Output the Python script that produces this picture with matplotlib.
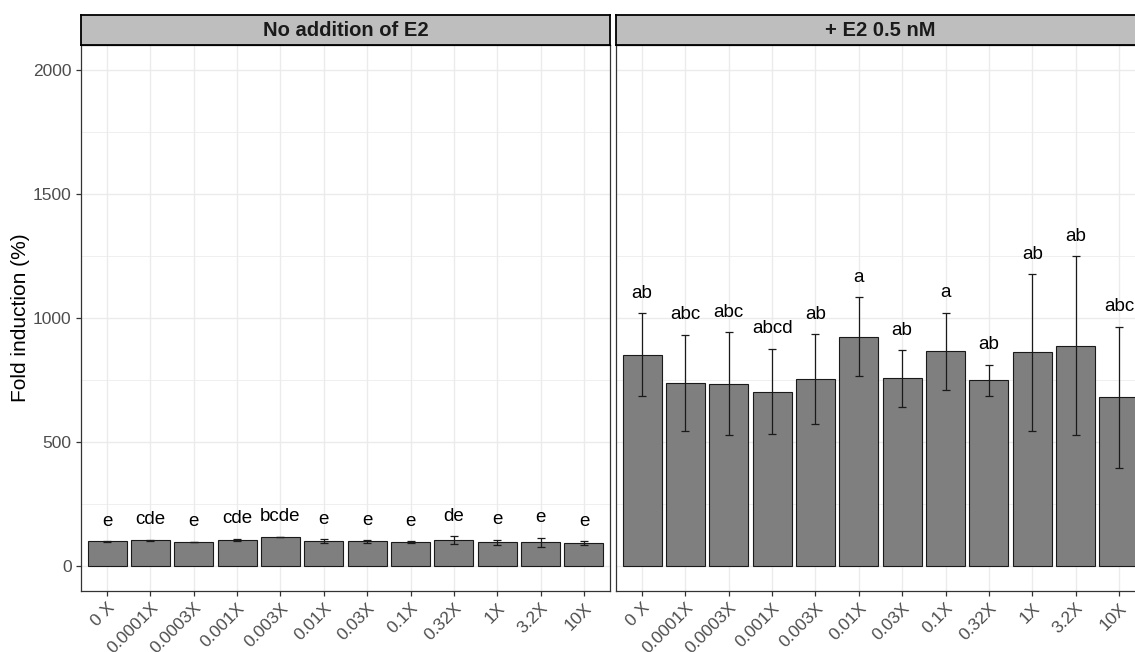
import matplotlib
matplotlib.use("Agg")
import matplotlib.pyplot as plt
from matplotlib.patches import Rectangle

plt.rcParams['font.family'] = ['Liberation Sans', 'DejaVu Sans']

categories = ["0 X", "0.0001X", "0.0003X", "0.001X", "0.003X", "0.01X",
              "0.03X", "0.1X", "0.32X", "1X", "3.2X", "10X"]

panel_titles = ["No addition of E2", "+ E2 0.5 nM"]

left_means = [99, 104, 97, 104, 117, 99, 99, 95, 104, 95, 95, 92]
left_sd = [1, 2, 1, 5, 1, 8, 5, 4, 16, 11, 19, 8]
left_letters = ["e", "cde", "e", "cde", "bcde", "e", "e", "e", "de", "e", "e", "e"]

right_means = [852, 737, 735, 703, 753, 924, 756, 866, 748, 861, 887, 679]
right_sd = [166, 195, 206, 172, 181, 159, 114, 155, 63, 316, 361, 285]
right_letters = ["ab", "abc", "abc", "abcd", "ab", "a", "ab", "a", "ab", "ab", "ab", "abc"]

y_major = [0, 500, 1000, 1500, 2000]
y_minor = [250, 750, 1250, 1750]

W, H = 1135, 652
fig = plt.figure(figsize=(W / 100, H / 100), dpi=100)

grid_col = "#EBEBEB"
border_col = "#333333"
txt_col = "#4D4D4D"

def px(x0, y_top, x1, y_bot):
    return [x0 / W, 1 - y_bot / H, (x1 - x0) / W, (y_bot - y_top) / H]

panels = [
    (81, 610, left_means, left_sd, left_letters, panel_titles[0], True),
    (616, 1145, right_means, right_sd, right_letters, panel_titles[1], False),
]

xs = list(range(1, len(categories) + 1))
for (x0, x1, means, sds, letters, title, show_y) in panels:
    ax = fig.add_axes(px(x0, 45, x1, 590.7))
    ax.set_xlim(0.4, len(categories) + 0.6)
    ax.set_ylim(-100, 2100)
    ax.set_axisbelow(True)
    for y in y_minor:
        ax.axhline(y, color=grid_col, lw=0.55, zorder=0)
    for y in y_major:
        ax.axhline(y, color=grid_col, lw=1.0, zorder=0)
    for x in xs:
        ax.axvline(x, color=grid_col, lw=1.0, zorder=0)
    ax.bar(xs, means, width=0.9, color="#7F7F7F", edgecolor="#1A1A1A",
           linewidth=0.8, zorder=2)
    ax.errorbar(xs, means, yerr=sds, fmt="none", ecolor="#1A1A1A",
                elinewidth=0.9, capsize=3.1, capthick=0.9, zorder=3)
    for x, m, s, lab in zip(xs, means, sds, letters):
        ax.annotate(lab, (x, m + s), xytext=(0, 14.3), textcoords="offset points",
                    ha="center", va="center", fontsize=13.5, color="black",
                    zorder=4, annotation_clip=False)
    for sp in ax.spines.values():
        sp.set_color(border_col)
        sp.set_linewidth(0.9)
    ax.set_xticks(xs)
    ax.set_xticklabels(categories, rotation=45, ha="right", va="top",
                       rotation_mode="anchor", fontsize=12.5, color=txt_col)
    ax.tick_params(axis="x", length=3.8, width=0.9, color=border_col, pad=3)
    ax.set_yticks(y_major)
    if show_y:
        ax.set_yticklabels([str(v) for v in y_major], fontsize=12.5, color=txt_col)
        ax.tick_params(axis="y", length=3.8, width=0.9, color=border_col, pad=3)
    else:
        ax.tick_params(axis="y", length=0, labelleft=False)

    sax = fig.add_axes(px(x0, 15, x1, 45))
    sax.set_xticks([])
    sax.set_yticks([])
    sax.set_facecolor("#BEBEBE")
    for sp in sax.spines.values():
        sp.set_color("black")
        sp.set_linewidth(1.3)
    sax.text(0.5, 0.5, title, transform=sax.transAxes, ha="center", va="center",
             fontsize=14.5, fontweight="bold", color="#1A1A1A")

fig.text(20 / W, 1 - 318 / H, "Fold induction (%)", rotation=90, ha="center",
         va="center", fontsize=15, color="black")

fig.savefig("out.png", dpi=100)
